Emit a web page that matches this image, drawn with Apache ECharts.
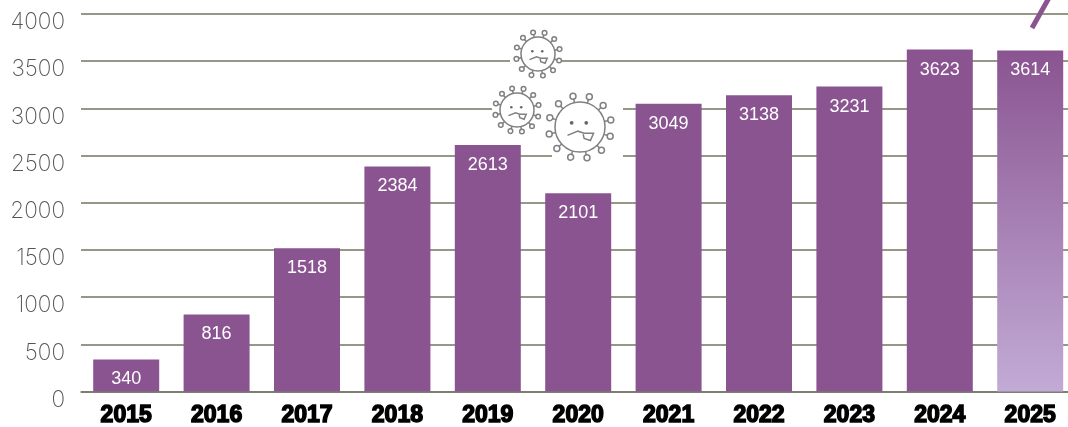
<!DOCTYPE html>
<html><head><meta charset="utf-8"><style>html,body{margin:0;padding:0;background:#fff}#c{width:1068px;height:427px}</style>
<script src="https://cdn.jsdelivr.net/npm/echarts@6/dist/echarts.min.js"></script></head>
<body><div id="c"></div><script>
const years=['2015','2016','2017','2018','2019','2020','2021','2022','2023','2024','2025'];
const values=[340,816,1518,2384,2613,2101,3049,3138,3231,3623,3614];
const PURPLE='#8a5491';
const viruses=[{x:538,y:54,r:17,sp:7},{x:517,y:110,r:17,sp:7},{x:580,y:127,r:25,sp:9}];
const masks=[[510,30,50,50],[492,86,60,50],[552,90,71,70]];
function virus(v){
  const ch=[];const S={stroke:'#808080',lineWidth:1.5,fill:null};
  const Z=20;
  ch.push({type:'circle',z:Z,shape:{cx:0,cy:0,r:v.r},style:Object.assign({},S,{fill:'#fff'})});
  const n=12;
  for(let i=0;i<n;i++){
    const a=i/n*Math.PI*2+0.3,c=Math.cos(a),s=Math.sin(a);
    const o=v.r+v.sp*0.45;
    ch.push({type:'line',z:Z,shape:{x1:c*v.r,y1:s*v.r,x2:c*o,y2:s*o},style:S});
    ch.push({type:'circle',z:Z,shape:{cx:c*(o+v.sp*0.28),cy:s*(o+v.sp*0.28),r:v.sp*0.33},style:Object.assign({},S,{fill:'#fff'})});
  }
  const k=v.r/24;
  ch.push({type:'circle',z:Z,shape:{cx:-8*k,cy:-4*k,r:1.8*k},style:{fill:'#666'}});
  ch.push({type:'circle',z:Z,shape:{cx:6*k,cy:-4*k,r:1.8*k},style:{fill:'#666'}});
  ch.push({type:'polyline',z:Z,shape:{points:[[-12*k,8*k],[-2*k,4*k],[4*k,6*k],[13*k,6*k],[10*k,13*k],[4*k,11*k],[3*k,7*k]]},style:S});
  return {type:'group',x:v.x,y:v.y,children:ch};
}
const graphic=[
  ...masks.map(m=>({type:'rect',z:10,shape:{x:m[0],y:m[1],width:m[2],height:m[3]},style:{fill:'#fff'}})),
  ...viruses.map(virus),
  {type:'line',z:20,shape:{x1:1032,y1:28,x2:1050,y2:-4},style:{stroke:PURPLE,lineWidth:5}}
];
const chart=echarts.init(document.getElementById('c'),null,{renderer:'canvas'});
chart.setOption({
  animation:false,
  backgroundColor:'#fff',
  grid:{left:81,width:994.4,top:14,height:377.5,containLabel:false,outerBoundsMode:'none'},
  xAxis:{type:'category',data:years,
    axisTick:{show:false},axisLine:{lineStyle:{color:'#77776a',width:1.5}},
    axisLabel:{color:'#000',fontFamily:'Liberation Sans',fontWeight:'bold',fontSize:23,margin:13,textBorderColor:'#000',textBorderWidth:1.5,interval:0}},
  yAxis:{type:'value',min:0,max:4000,interval:500,
    axisLine:{show:false},axisTick:{show:false},
    splitLine:{lineStyle:{color:'#75755f',width:1.5}},
    axisLabel:{color:'#555',fontFamily:'Inter',fontWeight:200,fontSize:22.5,margin:16,verticalAlign:'top',lineHeight:17,formatter:v=>String(v)}},
  series:[{type:'bar',data:values.map((v,i)=>i===values.length-1?{value:v,itemStyle:{color:new echarts.graphic.LinearGradient(0,0,0,1,[{offset:0,color:PURPLE},{offset:1,color:'#c2abd6'}])}}:v),
    barWidth:66,itemStyle:{color:PURPLE},
    label:{show:true,position:'insideTop',distance:11,color:'#fff',fontFamily:'Liberation Sans',fontSize:18}}],
  graphic:graphic
});
</script></body></html>
